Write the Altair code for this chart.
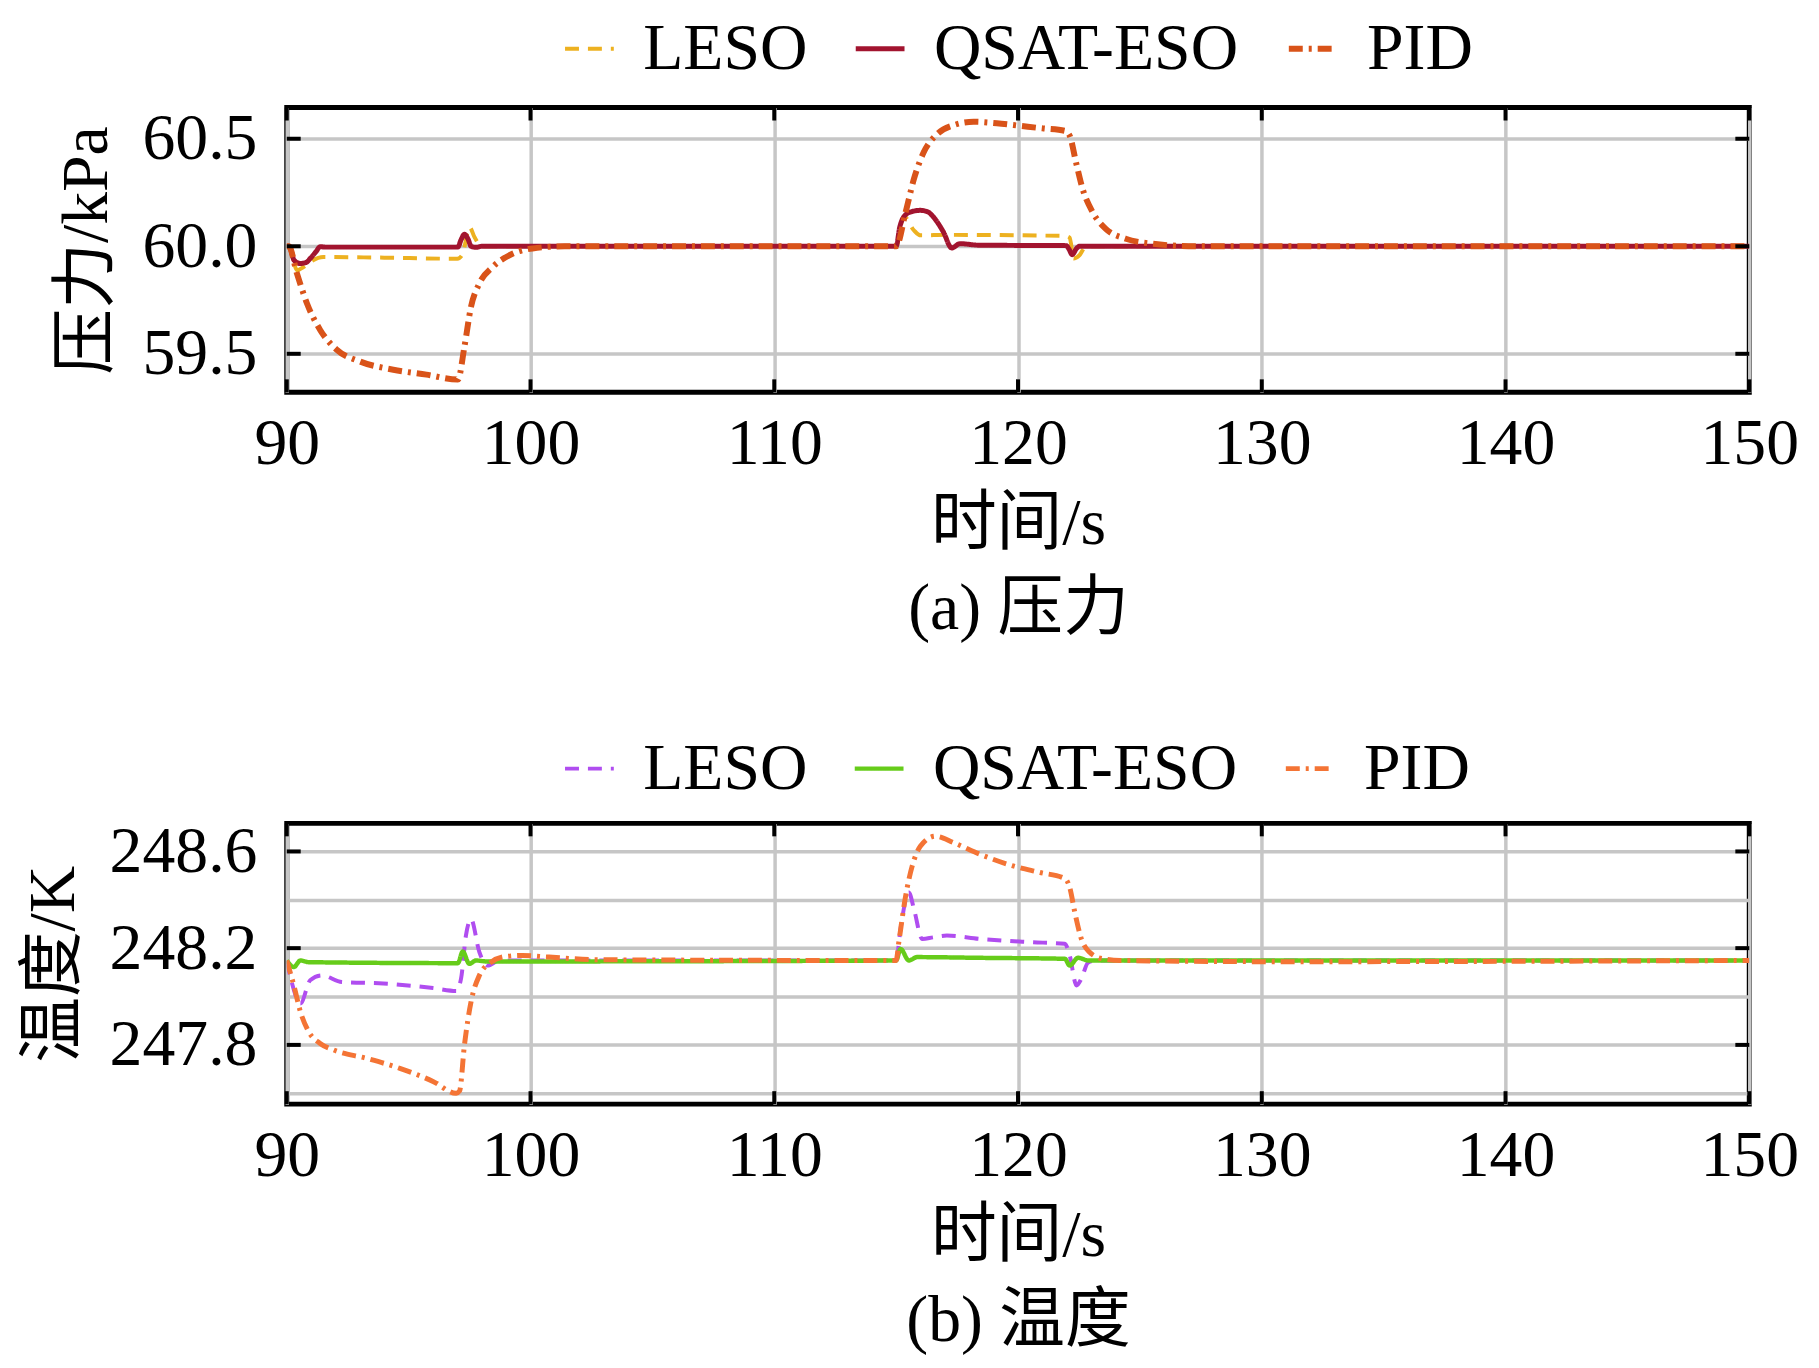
import altair as alt
import pandas as pd

series_names = ["LESO", "QSAT-ESO", "PID"]
x_ticks = [90, 100, 110, 120, 130, 140, 150]

# ---- (a) pressure, kPa ----
p_leso_t = [90, 90.1, 90.42, 90.7, 91.0, 91.5, 94.0, 97.0, 97.2, 97.5, 97.7, 98.0,
            115.0, 115.31, 115.73, 116.0, 117.1, 121.92, 122.12, 122.28, 122.52, 122.79, 150]
p_leso_v = [60.0, 60.0, 59.889, 59.905, 59.93, 59.95, 59.947, 59.942, 59.96, 60.089, 60.043, 60.0,
            60.0, 60.14, 60.074, 60.051, 60.053, 60.048, 60.04, 59.943, 59.958, 60.0, 60.0]

p_qsat_t = [90, 90.1, 90.3, 90.56, 90.8, 90.96, 91.2, 91.37, 91.6, 97.02, 97.15, 97.29, 97.45,
            97.56, 97.76, 98.0, 115.0, 115.15, 115.31, 115.6, 115.99, 116.3, 116.53, 116.94,
            117.28, 117.62, 118.4, 121.97, 122.1, 122.22, 122.4, 122.52, 150]
p_qsat_v = [60.0, 60.0, 59.935, 59.92, 59.925, 59.943, 59.975, 59.998, 59.996, 59.996, 60.03,
            60.056, 60.03, 60.0, 59.995, 60.0, 60.0, 60.09, 60.136, 60.16, 60.167, 60.16, 60.136,
            60.066, 59.992, 60.012, 60.005, 60.003, 59.985, 59.961, 59.99, 60.0, 60.0]

p_pid_t = [90, 90.08, 90.42, 90.83, 91.37, 92.05, 93.01, 94.37, 95.73, 97.02, 97.29, 97.56,
           97.9, 98.45, 99.13, 100.08, 101.4, 115.0, 115.39, 115.73, 116.13, 116.68, 117.36,
           118.18, 119.13, 120.08, 121.03, 121.92, 122.12, 122.38, 122.65, 123.06, 123.6,
           124.42, 125.51, 127.28, 150]
p_pid_v = [60.0, 60.0, 59.873, 59.734, 59.611, 59.519, 59.464, 59.426, 59.403, 59.38, 59.534,
           59.719, 59.827, 59.904, 59.958, 59.99, 60.0, 60.0, 60.159, 60.313, 60.437, 60.521,
           60.563, 60.579, 60.572, 60.56, 60.548, 60.537, 60.514, 60.39, 60.267, 60.159, 60.081,
           60.035, 60.012, 60.0, 60.0]

# ---- (b) temperature, K ----
t_leso_t = [90, 90.2, 90.56, 90.96, 91.44, 92.26, 93.96, 96.0, 96.95, 97.15, 97.35, 97.56, 97.9,
            98.24, 98.72, 115.0, 115.18, 115.52, 115.73, 116.07, 116.53, 117.08, 118.45, 120.49,
            121.92, 122.12, 122.4, 122.6, 122.87, 123.2, 150]
t_leso_v = [248.149, 248.06, 247.971, 248.067, 248.087, 248.06, 248.054, 248.035, 248.023,
            248.074, 248.252, 248.32, 248.184, 248.128, 248.149, 248.149, 248.28, 248.43, 248.362,
            248.238, 248.245, 248.252, 248.238, 248.225, 248.218, 248.17, 248.046, 248.074,
            248.14, 248.149, 248.149]

t_qsat_t = [90, 90.29, 90.56, 90.9, 97.02, 97.22, 97.49, 97.76, 98.2, 115.0, 115.18, 115.52,
            115.86, 118.45, 121.92, 122.12, 122.46, 122.9, 150]
t_qsat_v = [248.149, 248.122, 248.149, 248.142, 248.138, 248.186, 248.135, 248.149, 248.145,
            248.149, 248.197, 248.149, 248.163, 248.16, 248.156, 248.128, 248.16, 248.149, 248.149]

t_pid_t = [90, 90.29, 90.56, 90.9, 91.37, 91.92, 93.28, 94.64, 96.0, 96.95, 97.09, 97.29, 97.56,
           97.9, 98.38, 98.99, 99.67, 100.76, 102.8, 115.0, 115.11, 115.39, 115.66, 116.0,
           116.61, 117.36, 118.45, 119.8, 120.9, 121.92, 122.12, 122.33, 122.6, 122.93, 123.48,
           124.2, 131.0, 150]
t_pid_v = [248.149, 248.046, 247.937, 247.854, 247.806, 247.779, 247.744, 247.703, 247.649,
           247.6, 247.61, 247.8, 247.978, 248.087, 248.142, 248.166, 248.17, 248.163, 248.152,
           248.149, 248.225, 248.416, 248.54, 248.622, 248.663, 248.636, 248.588, 248.54,
           248.513, 248.488, 248.451, 248.348, 248.238, 248.184, 248.156, 248.149, 248.144, 248.149]

p_grid = [59.5, 60.0, 60.5]
p_labels = [59.5, 60.0, 60.5]
t_grid = [247.6, 247.8, 248.0, 248.2, 248.4, 248.6]
t_labels = [247.8, 248.2, 248.6]

FONT = "Liberation Serif, Times New Roman, Noto Sans CJK SC"
W = 1469
FS = 66


def frame(field, parts):
    rows = []
    for name, ts, vs in parts:
        for t, v in zip(ts, vs):
            rows.append({"t": t, "v": v, field: name})
    return pd.DataFrame(rows)


def panel(df, field, colors, widths, y_domain, grid_vals, label_vals, ytitle, xtitle, H, legend_y):
    xscale = alt.Scale(domain=[90, 150], nice=False, zero=False)
    yscale = alt.Scale(domain=y_domain, nice=False, zero=False)
    lab = "[" + ",".join(str(v) for v in label_vals) + "]"
    xaxis = alt.Axis(values=x_ticks, title=xtitle, labelPadding=20, titlePadding=15,
                     titleLineHeight=85, labelFlush=False, labelOverlap=False)
    yaxis = alt.Axis(values=grid_vals, title=ytitle, labelPadding=30, titlePadding=22,
                     labelExpr=f"indexof({lab}, datum.value) >= 0 ? format(datum.value, '.1f') : ''")
    legend = alt.Legend(orient="none", legendX=271, legendY=legend_y, direction="horizontal",
                        columns=3, title=None, symbolType="stroke", symbolSize=2400,
                        symbolStrokeWidth=4, labelFontSize=FS, labelFont=FONT,
                        labelColor="black", labelOffset=21, columnPadding=38, padding=0,
                        labelLimit=0)
    dashes = [[14, 9], [1, 0], [14, 6, 3, 6]]
    lines = alt.Chart(df).mark_line(clip=True, interpolate="monotone").encode(
        x=alt.X("t:Q", scale=xscale, axis=xaxis),
        y=alt.Y("v:Q", scale=yscale, axis=yaxis),
        color=alt.Color(f"{field}:N", sort=series_names,
                        scale=alt.Scale(domain=series_names, range=colors), legend=legend),
        strokeDash=alt.StrokeDash(f"{field}:N", sort=series_names,
                                  scale=alt.Scale(domain=series_names, range=dashes), legend=legend),
        strokeWidth=alt.StrokeWidth(f"{field}:N", sort=series_names,
                                    scale=alt.Scale(domain=series_names, range=widths), legend=None),
    )
    xt = pd.DataFrame({"t": x_ticks})
    yt = pd.DataFrame({"v": label_vals})
    top = alt.Chart(xt).mark_rule(color="black", strokeWidth=4).encode(
        x=alt.X("t:Q", scale=xscale, axis=xaxis), y=alt.value(0), y2=alt.value(13))
    bottom = alt.Chart(xt).mark_rule(color="black", strokeWidth=4).encode(
        x=alt.X("t:Q", scale=xscale, axis=xaxis), y=alt.value(H - 13), y2=alt.value(H))
    left = alt.Chart(yt).mark_rule(color="black", strokeWidth=4).encode(
        y=alt.Y("v:Q", scale=yscale, axis=yaxis), x=alt.value(0), x2=alt.value(14))
    right = alt.Chart(yt).mark_rule(color="black", strokeWidth=4).encode(
        y=alt.Y("v:Q", scale=yscale, axis=yaxis), x=alt.value(W - 14), x2=alt.value(W))
    return alt.layer(lines, top, bottom, left, right).properties(width=W, height=H)


p_df = frame("series_p", [("LESO", p_leso_t, p_leso_v), ("QSAT-ESO", p_qsat_t, p_qsat_v),
                          ("PID", p_pid_t, p_pid_v)])
t_df = frame("series_t", [("LESO", t_leso_t, t_leso_v), ("QSAT-ESO", t_qsat_t, t_qsat_v),
                          ("PID", t_pid_t, t_pid_v)])

chart_a = panel(p_df, "series_p", ["#EDB120", "#A2142F", "#D95319"], [4, 6, 3.5],
                [59.321, 60.645], p_grid, p_labels, "压力/kPa", ["时间/s", "(a) 压力"], 286, -92)
chart_b = panel(t_df, "series_t", ["#B04DF0", "#66CC1A", "#F47435"], [4, 5, 3.5],
                [247.555, 248.716], t_grid, t_labels, "温度/K", ["时间/s", "(b) 温度"], 282, -88)

chart = alt.vconcat(chart_a, chart_b, spacing=89).resolve_scale(
    color="independent", strokeDash="independent", strokeWidth="independent"
).properties(
    padding={"left": 10, "top": 2, "right": 10, "bottom": 0},
    background="white"
).configure_view(
    stroke="black", strokeWidth=5
).configure_axis(
    grid=True, gridColor="#C6C6C6", gridWidth=3.5, domain=False, ticks=False, tickSize=0,
    labelFont=FONT, labelFontSize=FS, labelColor="black",
    titleFont=FONT, titleFontSize=FS, titleFontWeight="normal", titleColor="black"
)

chart.save("out.html", embed_options={"renderer": "svg", "actions": False})
